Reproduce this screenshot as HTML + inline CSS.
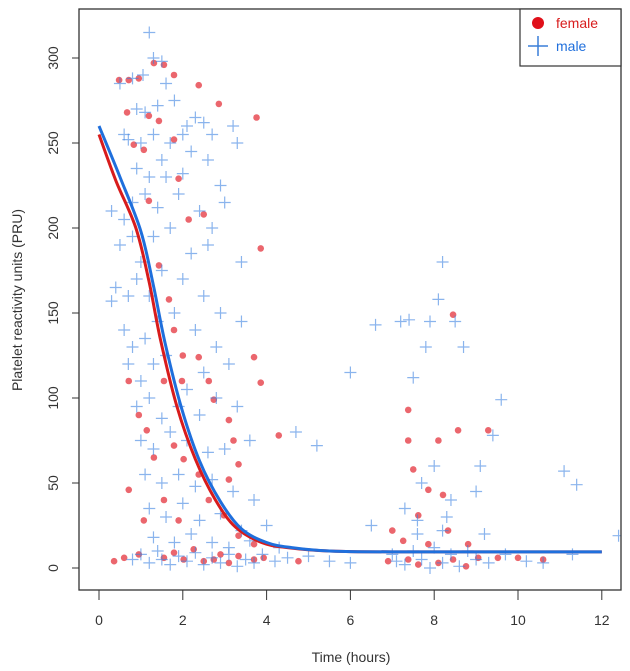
<!DOCTYPE html>
<html><head><meta charset="utf-8"><style>
html,body{margin:0;padding:0;background:#fff;}
svg{display:block;font-family:"Liberation Sans",Arial,sans-serif;}
</style></head><body>
<svg id="chart" width="630" height="671" viewBox="0 0 630 671">
<rect x="0" y="0" width="630" height="671" fill="#fff"/>
<g id="plot"></g>
<g id="axes"></g>
</svg>
<script>
const xTicks=[0,2,4,6,8,10,12];
const yTicks=[0,50,100,150,200,250,300];
const femaleT=[0.48,0.71,0.95,1.31,1.55,1.79,2.38,2.86,3.76,0.67,0.83,1.07,1.19,1.43,1.79,1.9,2.14,2.5,3.86,1.19,1.43,1.67,1.79,2.0,0.71,0.95,1.14,1.55,1.98,2.38,2.62,2.74,3.1,3.7,3.86,3.21,3.33,3.1,4.29,1.79,2.02,2.38,1.31,1.55,1.9,0.71,1.07,2.62,2.98,3.33,3.7,0.36,0.6,0.95,1.55,1.79,2.02,2.26,2.5,2.74,2.9,3.1,3.33,3.7,3.93,4.76,7.38,7.38,8.1,8.45,8.57,9.29,7.5,7.86,8.21,7.62,7.0,7.26,7.86,8.33,8.81,9.52,10.0,10.6,7.38,7.62,8.1,8.45,8.76,9.05,6.9];
const femaleV=[287,287,288,297,296,290,284,273,265,268,249,246,266,263,252,229,205,208,188,216,178,158,140,125,110,90,81,110,110,124,110,99,87,124,109,75,61,52,78,72,64,55,65,40,28,46,28,40,31,19,14,4,6,8,6,9,5,11,4,5,8,3,7,5,6,4,75,93,75,149,81,81,58,46,43,31,22,16,14,22,14,6,6,5,5,2,3,5,1,6,4];
const maleT=[1.2,1.3,1.5,1.05,0.8,1.6,0.5,0.9,1.1,1.4,1.8,2.1,2.3,2.7,3.2,3.3,2.5,0.6,0.7,1.0,1.3,1.7,2.0,2.2,1.5,0.9,1.2,1.6,2.0,2.6,2.9,0.3,0.6,0.8,1.1,1.4,1.9,2.4,2.7,3.0,0.5,0.8,1.0,1.3,1.7,2.2,2.6,3.4,0.4,0.7,0.9,1.2,1.5,2.0,2.5,2.9,3.4,0.3,0.6,0.8,1.1,1.4,1.8,2.3,2.8,0.7,1.0,1.3,1.6,2.1,2.5,3.1,0.9,1.2,1.5,1.9,2.4,2.8,3.3,1.0,1.3,1.7,2.1,2.6,3.0,3.6,1.1,1.5,1.9,2.3,2.7,3.2,3.7,1.2,1.6,2.0,2.4,2.9,3.4,4.0,1.3,1.8,2.2,2.7,3.1,3.6,4.3,0.8,1.0,1.2,1.4,1.5,1.7,1.9,2.1,2.3,2.5,2.7,2.9,3.1,3.3,3.5,3.7,3.9,4.2,4.5,5.0,5.5,6.0,4.7,5.2,6.0,6.5,6.6,7.1,7.2,7.4,7.3,7.5,7.6,7.8,7.9,8.1,8.2,8.3,8.5,8.7,8.0,7.7,8.4,9.0,9.1,9.4,9.6,7.0,7.3,7.5,7.7,7.9,8.0,8.2,8.4,8.6,8.8,9.0,9.3,9.7,10.2,10.6,11.1,11.4,12.4,11.3,8.2,7.6,9.2];
const maleV=[315,300,298,290,288,285,285,270,268,272,275,260,265,255,260,250,262,255,252,250,255,250,255,245,240,235,230,230,232,240,225,210,205,215,220,212,220,210,200,215,190,195,180,195,200,185,190,180,165,160,170,160,175,170,160,150,145,157,140,130,135,145,150,140,130,120,110,120,125,105,115,120,95,100,88,95,90,100,95,75,70,80,75,68,70,75,55,50,55,48,52,45,40,35,30,38,28,32,22,25,18,15,20,15,12,16,12,5,8,3,10,5,2,7,4,9,2,6,3,8,1,5,3,8,4,6,7,4,3,80,72,115,25,143,4,145,146,35,112,20,130,145,158,180,30,145,130,60,50,40,45,60,78,99,8,2,10,5,0,12,3,8,1,10,5,3,8,4,3,57,49,19,8,22,28,20];
const femaleCurveT=[0,0.4,0.88,1.19,1.47,1.86,2.3,2.78,3.26,3.88,4.5,5.5,7,12];
const femaleCurve=[255,228,200,169,134,95,64,40,24,15,12,10,9.5,9.5];
const maleCurveT=[0,0.5,1.0,1.3,1.58,1.97,2.4,2.9,3.4,4.0,4.6,5.5,7,12];
const maleCurve=[260,230,198,166,132,94,63,39,23,15,12,10,9.5,9.5];

const NS="http://www.w3.org/2000/svg";
const X0=79,X1=621,Y0=9,Y1=590;
function sx(t){return 99+t*41.9;}
function sy(v){return 568-v*1.70;}
function mk(tag,attrs,parent){const e=document.createElementNS(NS,tag);for(const k in attrs)e.setAttribute(k,attrs[k]);parent.appendChild(e);return e;}
const plot=document.getElementById('plot'),axes=document.getElementById('axes');
const clip=mk('clipPath',{id:'cp'},plot);mk('rect',{x:X0,y:Y0,width:X1-X0,height:Y1-Y0},clip);
const pg=mk('g',{'clip-path':'url(#cp)'},plot);
for(let i=0;i<femaleT.length;i++){
 const c=mk('circle',{cx:sx(femaleT[i]),cy:sy(femaleV[i]),r:3.3,fill:'rgba(225,30,40,0.68)'},pg);
 
 
}
for(let i=0;i<maleT.length;i++){
 const x=sx(maleT[i]),y=sy(maleV[i]);
 const p=mk('path',{d:`M${x-6},${y}H${x+6}M${x},${y-6}V${y+6}`,stroke:'rgba(60,130,225,0.6)','stroke-width':1.2,fill:'none'},pg);
 
 
}
function curvePath(ts,vs){
 const pts=ts.map((t,i)=>[sx(t),sy(vs[i])]);let d=`M${pts[0][0]},${pts[0][1]}`;
 for(let i=0;i<pts.length-1;i++){const p0=pts[Math.max(0,i-1)],p1=pts[i],p2=pts[i+1],p3=pts[Math.min(pts.length-1,i+2)];
  d+=`C${p1[0]+(p2[0]-p0[0])/6},${p1[1]+(p2[1]-p0[1])/6} ${p2[0]-(p3[0]-p1[0])/6},${p2[1]-(p3[1]-p1[1])/6} ${p2[0]},${p2[1]}`;}
 return d;}
const fc=mk('path',{d:curvePath(femaleCurveT,femaleCurve),stroke:'#d81c1c','stroke-width':3,fill:'none'},pg);


const mc=mk('path',{d:curvePath(maleCurveT,maleCurve),stroke:'#1f6fdc','stroke-width':3,fill:'none'},pg);


const box=mk('rect',{x:X0,y:Y0,width:X1-X0,height:Y1-Y0,fill:'none',stroke:'#333','stroke-width':1.3},axes);


xTicks.forEach(t=>{mk('line',{x1:sx(t),x2:sx(t),y1:590,y2:600,stroke:'#333'},axes);
 const tx=mk('text',{x:sx(t),y:625,'text-anchor':'middle','font-size':14,fill:'#333'},axes);tx.textContent=t;
 
 });
yTicks.forEach(v=>{mk('line',{x1:X0,x2:X0-7,y1:sy(v),y2:sy(v),stroke:'#333'},axes);
 const tx=mk('text',{x:0,y:0,transform:`translate(58,${sy(v)}) rotate(-90)`,'text-anchor':'middle','font-size':14,fill:'#333'},axes);tx.textContent=v;
 
 });
const xt=mk('text',{x:351,y:662,'text-anchor':'middle','font-size':14,fill:'#333'},axes);xt.textContent='Time (hours)';


const yt=mk('text',{x:0,y:0,transform:'translate(22,300) rotate(-90)','text-anchor':'middle','font-size':14,fill:'#333'},axes);yt.textContent='Platelet reactivity units (PRU)';


const lg=mk('g',{},axes);


mk('rect',{x:520,y:9,width:101,height:57,fill:'#fff',stroke:'#333','stroke-width':1.2},lg);
mk('circle',{cx:538,cy:23,r:6,fill:'#e0101a'},lg);
const l1=mk('text',{x:556,y:28,'font-size':14,fill:'#d81c1c'},lg);l1.textContent='female';


mk('path',{d:'M528,46H548M538,36V56',stroke:'#3a7fd8','stroke-width':1.5},lg);
const l2=mk('text',{x:556,y:51,'font-size':14,fill:'#1f6fdc'},lg);l2.textContent='male';


</script>
</body></html>
